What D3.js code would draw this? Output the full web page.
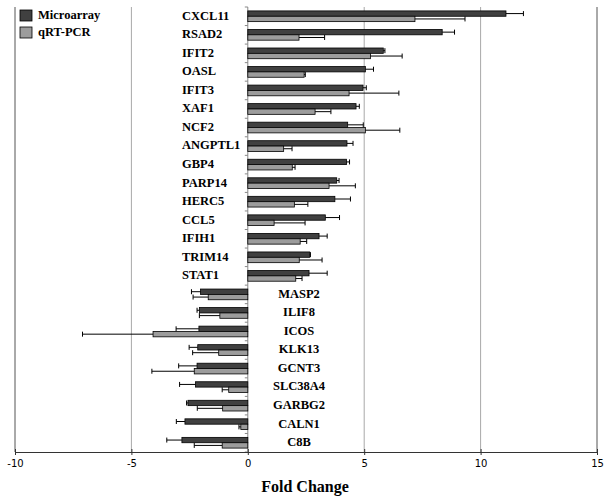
<!DOCTYPE html>
<html lang="en">
<head>
<meta charset="UTF-8">
<title>Fold Change</title>
<script src="https://d3js.org/d3.v7.min.js"></script>
<style>
  body { margin: 0; background: #fff; }
</style>
</head>
<body>
<div id="chart"></div>
<script>
// genes, top to bottom
const genes = ["CXCL11","RSAD2","IFIT2","OASL","IFIT3","XAF1","NCF2","ANGPTL1","GBP4","PARP14",
  "HERC5","CCL5","IFIH1","TRIM14","STAT1","MASP2","ILIF8","ICOS","KLK13","GCNT3","SLC38A4",
  "GARBG2","CALN1","C8B"];
const microarray = [11.09,8.35,5.82,5.05,4.95,4.65,4.29,4.26,4.24,3.82,3.74,3.33,3.06,2.66,2.63,
  -2.03,-2.08,-2.10,-2.15,-2.18,-2.25,-2.57,-2.70,-2.83];
const microErr = [0.75,0.53,0.07,0.35,0.14,0.14,0.67,0.26,0.13,0.10,0.67,0.61,0.35,0.03,0.78,
  0.39,0.10,0.98,0.37,0.79,0.68,0.06,0.37,0.65];
const qpcr = [7.18,2.20,5.27,2.42,4.35,2.89,5.05,1.54,1.91,3.49,2.00,1.13,2.25,2.21,2.06,
  -1.70,-1.20,-4.07,-1.25,-2.30,-0.82,-1.08,-0.30,-1.10];
const qpcrErr = [2.15,1.10,1.36,0.05,2.14,0.68,1.48,0.36,0.12,1.13,0.58,1.33,0.28,0.98,0.27,
  0.65,0.88,3.03,1.12,1.82,0.28,1.09,0.08,1.20];
const xTicks = [-10,-5,0,5,10,15];
const seriesNames = ["Microarray","qRT-PCR"];
const colors = ["#404040","#9c9c9c"];

const W = 608, H = 502;
const svg = d3.select("#chart").append("svg")
    .attr("width", W).attr("height", H);

const plotTop = 7, plotBottom = 452;
const x = d3.scaleLinear().domain([-10, 15]).range([15, 597]);
const y = d3.scaleBand().domain(genes).range([plotTop, plotBottom]);
const sub = d3.scaleBand().domain([0, 1]).range([0, y.bandwidth()]).paddingOuter(0.73);

// grid lines
svg.selectAll("line.grid")
    .data([-5, 5, 10])
    .enter().append("line")
    .attr("x1", d => x(d)).attr("x2", d => x(d))
    .attr("y1", plotTop).attr("y2", plotBottom)
    .attr("stroke", "#a8a8a8").attr("stroke-width", 1);

// frame: left and right border
svg.append("line").attr("x1", x(-10)).attr("x2", x(-10)).attr("y1", plotTop).attr("y2", plotBottom)
    .attr("stroke", "#555");
svg.append("line").attr("x1", x(15)).attr("x2", x(15)).attr("y1", plotTop).attr("y2", plotBottom)
    .attr("stroke", "#555");

// zero axis with band ticks
svg.append("line").attr("x1", x(0)).attr("x2", x(0)).attr("y1", plotTop).attr("y2", plotBottom)
    .attr("stroke", "#888");
svg.selectAll("line.ztick")
    .data(genes.concat(["end"]))
    .enter().append("line")
    .attr("x1", x(0) - 3).attr("x2", x(0))
    .attr("y1", (d, i) => plotTop + i * y.step()).attr("y2", (d, i) => plotTop + i * y.step())
    .attr("stroke", "#888");

// bars
const series = [
  { vals: microarray, err: microErr },
  { vals: qpcr, err: qpcrErr }
];
series.forEach(function (s, k) {
  const g = svg.append("g");
  genes.forEach(function (gene, i) {
    const v = s.vals[i], e = s.err[i];
    const y0 = y(gene) + sub(k), h = sub.bandwidth();
    g.append("rect")
      .attr("x", Math.min(x(0), x(v)))
      .attr("y", y0)
      .attr("width", Math.abs(x(v) - x(0)))
      .attr("height", h)
      .attr("fill", colors[k])
      .attr("stroke", "#000").attr("stroke-width", 0.8);
    const tip = v >= 0 ? v + e : v - e;
    const ym = y0 + h / 2;
    g.append("line")
      .attr("x1", x(v)).attr("x2", x(tip))
      .attr("y1", ym).attr("y2", ym)
      .attr("stroke", "#000").attr("stroke-width", 1);
    g.append("line")
      .attr("x1", x(tip)).attr("x2", x(tip))
      .attr("y1", ym - 2.5).attr("y2", ym + 2.5)
      .attr("stroke", "#000").attr("stroke-width", 1);
  });
});

// gene labels
svg.selectAll("text.gene")
    .data(genes)
    .enter().append("text")
    .attr("x", (d, i) => microarray[i] >= 0 ? 182 : 299)
    .attr("y", d => y(d) + y.bandwidth() / 2 + 0.5)
    .attr("dominant-baseline", "middle")
    .attr("text-anchor", (d, i) => microarray[i] >= 0 ? "start" : "middle")
    .attr("font-family", "Liberation Serif, Times New Roman, serif")
    .attr("font-weight", "bold")
    .attr("font-size", "12.5px")
    .text(d => d);

// x axis
const xAxis = svg.append("g").attr("transform", "translate(0," + plotBottom + ")")
    .call(d3.axisBottom(x).tickValues(xTicks).tickSize(3).tickFormat(d => String(d)));
xAxis.select(".domain").attr("stroke", "#333");
xAxis.selectAll(".tick line").attr("stroke", "#333").attr("y1", -3);
xAxis.selectAll("text")
    .attr("font-family", "DejaVu Sans, Verdana, sans-serif")
    .attr("font-size", "10px").attr("fill", "#000").attr("dy", "0.9em");

svg.append("text")
    .attr("x", 305).attr("y", 492)
    .attr("text-anchor", "middle")
    .attr("font-family", "Liberation Serif, Times New Roman, serif")
    .attr("font-weight", "bold").attr("font-size", "16px")
    .text("Fold Change");

// legend
const legend = svg.append("g");
seriesNames.forEach(function (name, k) {
  legend.append("rect")
    .attr("x", 20).attr("y", 10 + k * 17)
    .attr("width", 12).attr("height", 11)
    .attr("fill", colors[k]).attr("stroke", "#000").attr("stroke-width", 0.8);
  legend.append("text")
    .attr("x", 38).attr("y", 16 + k * 17)
    .attr("dominant-baseline", "middle")
    .attr("font-family", "Liberation Serif, Times New Roman, serif")
    .attr("font-weight", "bold").attr("font-size", "12.5px")
    .text(name);
});
</script>
</body>
</html>
